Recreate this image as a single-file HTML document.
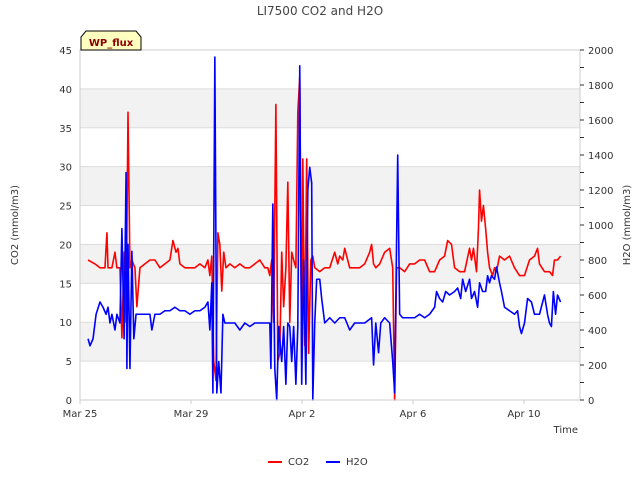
<!DOCTYPE html>
<html><head><meta charset="utf-8"><style>
body{margin:0;background:#fff;font-family:"DejaVu Sans",sans-serif}
svg text{font-family:"DejaVu Sans",sans-serif}
</style></head><body>
<svg id="chart" width="640" height="480">
<text x="320" y="15" text-anchor="middle" font-size="12" fill="#444">LI7500 CO2 and H2O</text>
<g id="bands"></g><g id="grid"></g><g id="series"></g><g id="axes"></g>
<text transform="translate(18,225) rotate(-90)" text-anchor="middle" font-size="10" fill="#333">CO2 (mmol/m3)</text>
<text transform="translate(630,225) rotate(-90)" text-anchor="middle" font-size="10" fill="#333">H2O (mmol/m3)</text>
<text x="578" y="433" text-anchor="end" font-size="10" fill="#333">Time</text>
<g><path d="M81,50 L81,37 L86,31 L136,31 L141,37 L141,50 Z" fill="#ffffc0" stroke="#000" stroke-width="1"/><text x="111" y="46" text-anchor="middle" font-size="10" font-weight="bold" fill="#8b0000">WP_flux</text></g>
<g>
<g><line x1="268" y1="462" x2="282" y2="462" stroke="#f00" stroke-width="2"/><text x="288" y="465" font-size="10" fill="#333">CO2</text></g>
<g><line x1="326" y1="462" x2="340" y2="462" stroke="#00f" stroke-width="2"/><text x="346" y="465" font-size="10" fill="#333">H2O</text></g>
</g>
</svg>
<script>
const co2Days=[0.29,0.54,0.72,0.90,0.97,1.01,1.15,1.26,1.33,1.44,1.51,1.59,1.66,1.73,1.80,1.87,1.98,2.05,2.16,2.34,2.52,2.70,2.88,3.06,3.24,3.35,3.46,3.53,3.60,3.78,3.96,4.14,4.32,4.50,4.61,4.68,4.75,4.82,4.90,4.97,5.04,5.11,5.18,5.26,5.40,5.58,5.76,5.94,6.12,6.30,6.48,6.66,6.77,6.84,6.91,6.98,7.06,7.13,7.20,7.27,7.34,7.42,7.49,7.56,7.63,7.70,7.78,7.85,7.92,7.99,8.03,8.10,8.17,8.24,8.32,8.39,8.46,8.64,8.82,9.00,9.18,9.29,9.36,9.47,9.54,9.72,9.90,10.08,10.26,10.44,10.51,10.58,10.66,10.80,10.98,11.16,11.27,11.34,11.41,11.52,11.70,11.88,12.06,12.24,12.42,12.60,12.78,12.96,13.14,13.25,13.39,13.50,13.68,13.86,14.04,14.11,14.18,14.29,14.36,14.40,14.47,14.54,14.62,14.69,14.76,14.87,14.94,15.01,15.12,15.30,15.48,15.66,15.84,16.02,16.20,16.38,16.49,16.56,16.74,16.92,17.03,17.10,17.21,17.32];
const co2Values=[18,17.5,17,17,21.5,17,17,19,17,17,8,19,10,37,17,18,17,12,17,17.5,18,18,17,17.5,18,20.5,19,19.5,17.5,17,17,17,17.5,17,18,16,18.5,5,2.5,21.5,20,14,19,17,17.5,17,17.5,17,17,17.5,18,17,17,16,18,10,38,5,6,19,12,17,28,10,19,18,17,37,41.5,5,31,7,31,6,18,18.5,17,16.5,17,17,19,17.5,18.5,18,19.5,17,17,17,17.5,19,20,17.5,17,17.5,19,19.5,17,0,17,17,16.5,17.5,17.5,18,18,16.5,16.5,18,18.5,20.5,20,17,16.5,16.5,19.5,18,19.5,16.5,22,27,23,25,22,19,17,16,17,16.5,18.5,18,18.5,17,16,16,18,18.5,19.5,17.5,16.5,16.5,16,18,18,18.5];
const h2oDays=[0.29,0.36,0.47,0.58,0.72,0.83,0.94,1.01,1.08,1.15,1.26,1.33,1.44,1.51,1.59,1.66,1.69,1.73,1.80,1.87,1.94,2.02,2.16,2.27,2.38,2.52,2.59,2.70,2.88,3.06,3.24,3.42,3.60,3.78,3.96,4.14,4.32,4.50,4.61,4.68,4.75,4.79,4.86,4.93,5.00,5.08,5.15,5.22,5.40,5.58,5.76,5.94,6.12,6.30,6.48,6.66,6.84,6.88,6.95,7.02,7.09,7.16,7.27,7.34,7.42,7.49,7.56,7.63,7.70,7.78,7.85,7.92,7.99,8.06,8.14,8.21,8.28,8.35,8.39,8.46,8.53,8.64,8.71,8.82,9.00,9.18,9.36,9.54,9.72,9.90,10.08,10.26,10.51,10.58,10.66,10.76,10.84,10.98,11.16,11.27,11.34,11.45,11.52,11.63,11.88,12.06,12.24,12.42,12.60,12.78,12.85,12.96,13.07,13.18,13.32,13.50,13.61,13.72,13.79,13.90,14.04,14.11,14.22,14.33,14.40,14.51,14.62,14.69,14.76,14.83,14.94,15.01,15.12,15.19,15.30,15.48,15.66,15.77,15.84,15.91,16.02,16.13,16.27,16.38,16.56,16.74,16.85,16.92,16.99,17.06,17.14,17.21,17.32];
const h2oValues=[350,310,350,490,560,530,490,530,440,490,400,490,440,980,350,1300,180,890,180,850,350,490,490,490,490,490,400,490,490,510,510,530,510,510,490,510,510,530,560,400,670,40,1960,40,220,40,490,440,440,440,400,440,420,440,440,440,440,180,1120,180,0,420,220,420,90,440,420,220,420,90,420,1910,90,800,90,1200,1330,1240,0,440,690,690,580,440,470,440,470,470,400,440,440,440,470,200,440,270,440,470,440,220,40,1400,490,470,470,470,490,470,490,530,620,580,560,620,600,620,640,580,690,620,690,580,620,530,670,620,620,710,670,710,690,760,670,620,530,510,490,510,420,380,440,580,560,490,490,600,490,440,420,620,490,600,560];
const leftTicks=[0,5,10,15,20,25,30,35,40,45];
const rightTicks=[0,200,400,600,800,1000,1200,1400,1600,1800,2000];
const xTickDays=[0,4,8,12,16];
const xTickLabels=["Mar 25","Mar 29","Apr 2","Apr 6","Apr 10"];
const X0=80,X1=580,Y0=400,Y1=50;
const xS=d=>X0+d*(500/18.02);
const yL=v=>Y0-(v/45)*(Y0-Y1);
const yR=v=>Y0-(v/2000)*(Y0-Y1);
const NS="http://www.w3.org/2000/svg";
function mk(tag,attrs,parent){const e=document.createElementNS(NS,tag);for(const k in attrs)e.setAttribute(k,attrs[k]);parent.appendChild(e);return e;}
const bands=document.getElementById('bands'),grid=document.getElementById('grid'),series=document.getElementById('series'),axes=document.getElementById('axes');
for(let v=5;v<45;v+=10){const r=mk('rect',{x:X0,y:yL(v+5),width:X1-X0,height:yL(v)-yL(v+5),fill:'#f2f2f2'},bands);

}
leftTicks.forEach(v=>{const l=mk('line',{x1:X0,x2:X1,y1:yL(v),y2:yL(v),stroke:'#dcdcdc'},grid);


const t=mk('text',{x:X0-8,y:yL(v)+4,'text-anchor':'end','font-size':10,fill:'#333'},axes);t.textContent=v;

});
mk('rect',{x:X0,y:Y1,width:X1-X0,height:Y0-Y1,fill:'none',stroke:'#ccc'},axes);
rightTicks.forEach(v=>{const t=mk('text',{x:X1+8,y:yR(v)+4,'font-size':10,fill:'#333'},axes);t.textContent=v;


mk('line',{x1:X1,x2:X1+4,y1:yR(v),y2:yR(v),stroke:'#333'},axes);
if(v<2000)mk('line',{x1:X1,x2:X1+4,y1:yR(v+100),y2:yR(v+100),stroke:'#333'},axes);});
xTickDays.forEach((d,i)=>{mk('line',{x1:xS(d),x2:xS(d),y1:Y0,y2:Y0+4,stroke:'#ccc'},axes);
const t=mk('text',{x:xS(d),y:Y0+17,'text-anchor':'middle','font-size':10,fill:'#333'},axes);t.textContent=xTickLabels[i];

});
const co2=mk('polyline',{points:co2Days.map((d,i)=>xS(d)+','+yL(co2Values[i])).join(' '),fill:'none',stroke:'#f00','stroke-width':1.6,'stroke-linejoin':'round'},series);


const h2o=mk('polyline',{points:h2oDays.map((d,i)=>xS(d)+','+yR(h2oValues[i])).join(' '),fill:'none',stroke:'#00f','stroke-width':1.6,'stroke-linejoin':'round'},series);


</script>
</body></html>
